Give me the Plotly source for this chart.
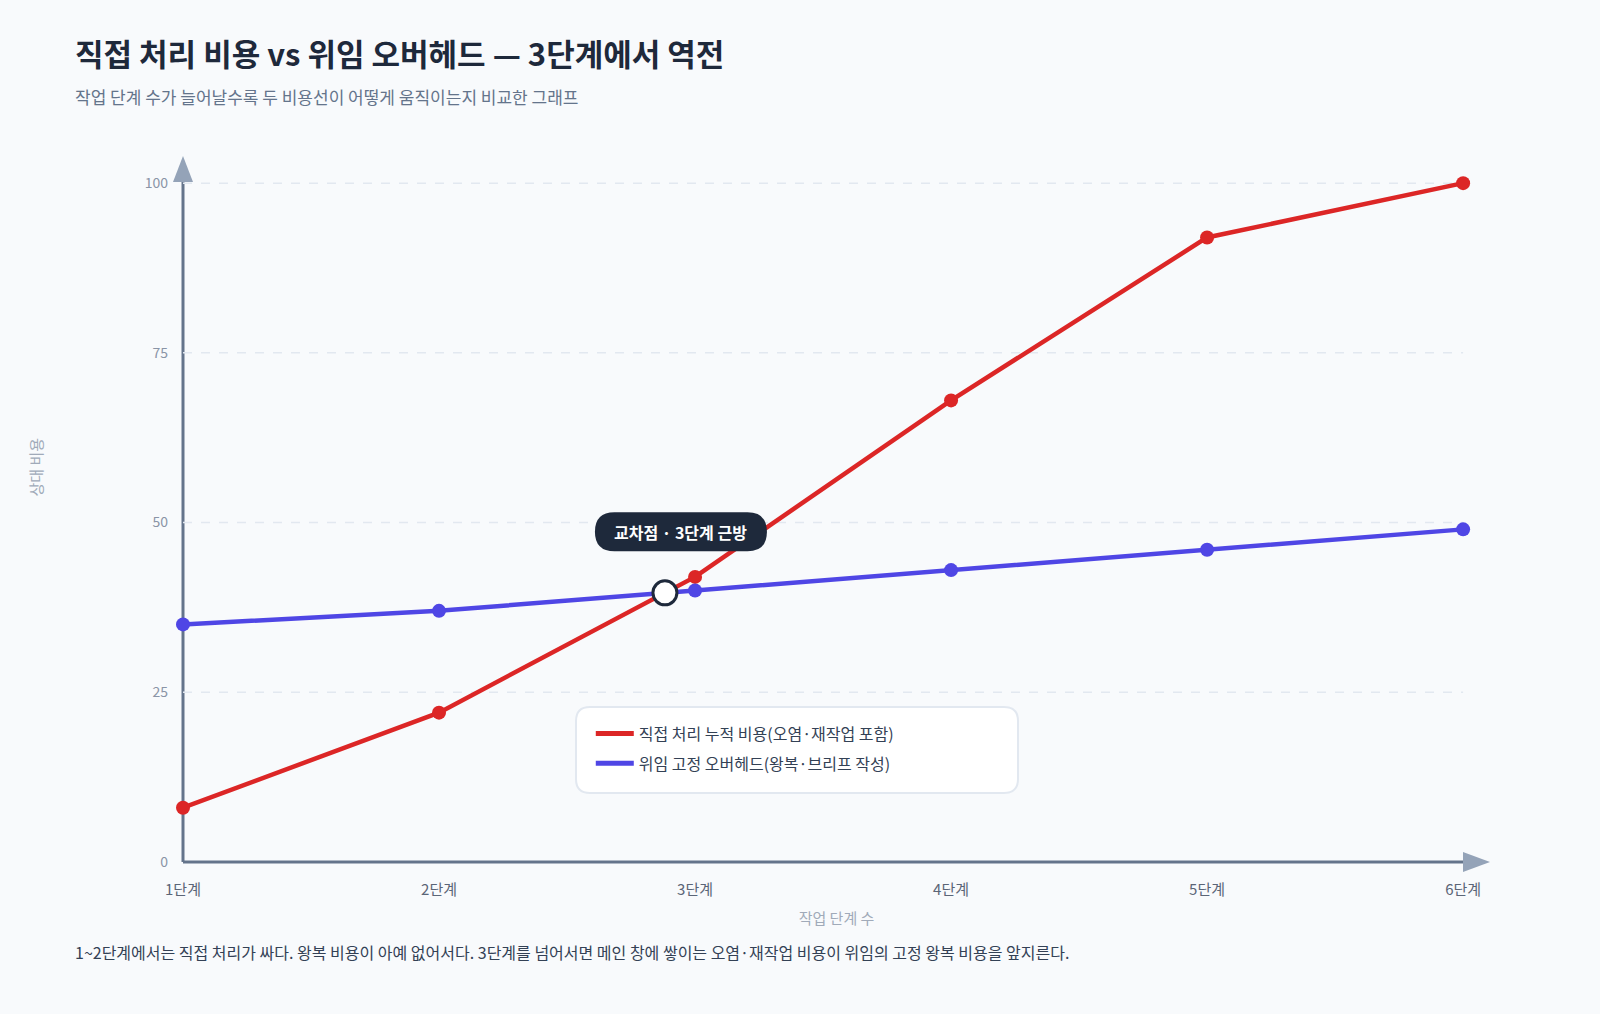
import plotly.graph_objects as go

# data
stages = ["1단계", "2단계", "3단계", "4단계", "5단계", "6단계"]
direct_cost = [8, 22, 42, 68, 92, 100]
delegate_overhead = [35, 37, 40, 43, 46, 49]
y_ticks = [0, 25, 50, 75, 100]

direct_name = "직접 처리 누적 비용(오염·재작업 포함)"
delegate_name = "위임 고정 오버헤드(왕복·브리프 작성)"

RED = "#dc2626"
BLUE = "#4f46e5"
INK = "#1e293b"
AXIS = "#64748b"
BG = "#f8fafc"
FONT = "Noto Sans CJK KR"

x = list(range(1, len(stages) + 1))

# where the two lines cross (between stage 2 and 3)
i = 1
d0 = direct_cost[i] - delegate_overhead[i]
d1 = direct_cost[i + 1] - delegate_overhead[i + 1]
t = d0 / (d0 - d1)
cross_x = x[i] + t
cross_y = delegate_overhead[i] + t * (delegate_overhead[i + 1] - delegate_overhead[i])

X_MAX = 6.105
Y_MAX = 104
PW, PH = 1307, 706  # plot area size in px


def rounded(x0, y0, x1, y1, r):
    return (f"M {x0 + r},{y0} L {x1 - r},{y0} Q {x1},{y0} {x1},{y0 + r} "
            f"L {x1},{y1 - r} Q {x1},{y1} {x1 - r},{y1} L {x0 + r},{y1} "
            f"Q {x0},{y1} {x0},{y1 - r} L {x0},{y0 + r} Q {x0},{y0} {x0 + r},{y0} Z")


fig = go.Figure()

fig.add_trace(go.Scatter(
    x=x, y=direct_cost, mode="lines+markers", showlegend=False,
    line=dict(color=RED, width=4.5), marker=dict(size=14, color=RED),
    cliponaxis=False, hoverinfo="skip",
))
fig.add_trace(go.Scatter(
    x=x, y=delegate_overhead, mode="lines+markers", showlegend=False,
    line=dict(color=BLUE, width=4.5), marker=dict(size=14, color=BLUE),
    cliponaxis=False, hoverinfo="skip",
))
# legend entries (line only)
fig.add_trace(go.Scatter(x=[None], y=[None], mode="lines", name=direct_name,
                         line=dict(color=RED, width=5), legendgroup="a"))
fig.add_trace(go.Scatter(x=[None], y=[None], mode="lines", name=delegate_name,
                         line=dict(color=BLUE, width=5), legendgroup="b"))
# crossing marker
fig.add_trace(go.Scatter(
    x=[cross_x], y=[cross_y], mode="markers", showlegend=False,
    marker=dict(size=24, color="white", line=dict(color=INK, width=3)),
    cliponaxis=False, hoverinfo="skip",
))

shapes = []
# dashed grid
for v in y_ticks[1:]:
    shapes.append(dict(type="line", xref="x", yref="y", x0=1, x1=x[-1], y0=v, y1=v,
                       line=dict(color="#e2e8f0", width=1.5, dash="dash"), layer="below"))
# axes with arrow heads (paper refs so nothing is clipped)
shapes.append(dict(type="line", xref="paper", yref="paper", x0=0, x1=1 - 20 / PW, y0=0, y1=0,
                   line=dict(color=AXIS, width=3), layer="below"))
shapes.append(dict(type="line", xref="paper", yref="paper", x0=0, x1=0, y0=0, y1=1 - 20 / PH,
                   line=dict(color=AXIS, width=3), layer="below"))
shapes.append(dict(type="path", xref="paper", yref="paper", xsizemode="pixel", ysizemode="pixel",
                   xanchor=1, yanchor=0, path="M 0,0 L -27,10 L -27,-10 Z",
                   fillcolor="#94a3b8", line=dict(width=0), layer="below"))
shapes.append(dict(type="path", xref="paper", yref="paper", xsizemode="pixel", ysizemode="pixel",
                   xanchor=0, yanchor=1, path="M 0,0 L -10,-26 L 10,-26 Z",
                   fillcolor="#94a3b8", line=dict(width=0), layer="below"))
# callout pill
shapes.append(dict(type="path", xref="x", yref="y", xsizemode="pixel", ysizemode="pixel",
                   xanchor=cross_x, yanchor=cross_y,
                   path=rounded(-70, 41.5, 102, 80.5, 19.5),
                   fillcolor=INK, line=dict(width=0)))
# legend box
shapes.append(dict(type="path", xref="paper", yref="paper", xsizemode="pixel", ysizemode="pixel",
                   xanchor=(576 - 183) / PW, yanchor=(862 - 707) / PH,
                   path=rounded(0, -86, 442, 0, 14),
                   fillcolor="white", line=dict(color="#e2e8f0", width=2), layer="below"))

annotations = [
    dict(x=cross_x, y=cross_y, xref="x", yref="y", xshift=16, yshift=61, showarrow=False,
         text="<b>교차점 · 3단계 근방</b>", font=dict(family=FONT, size=16, color="white")),
    dict(x=-160 / PW, y=(862 - 467) / PH, xref="paper", yref="paper", textangle=-90,
         showarrow=False, text="상대 비용", font=dict(family=FONT, size=15, color="#a0aab9")),
    dict(x=-110 / PW, y=-90 / PH, xref="paper", yref="paper", xanchor="left", yanchor="middle",
         showarrow=False, align="left",
         text="1~2단계에서는 직접 처리가 싸다. 왕복 비용이 아예 없어서다. "
              "3단계를 넘어서면 메인 창에 쌓이는 오염·재작업 비용이 위임의 고정 왕복 비용을 앞지른다.",
         font=dict(family=FONT, size=16, color="#334155")),
    dict(x=-110 / PW, y=(862 - 52) / PH, xref="paper", yref="paper", xanchor="left", yanchor="middle",
         showarrow=False, text="<b>직접 처리 비용 vs 위임 오버헤드 — 3단계에서 역전</b>",
         font=dict(family=FONT, size=31, color=INK)),
    dict(x=-110 / PW, y=(862 - 96) / PH, xref="paper", yref="paper", xanchor="left", yanchor="middle",
         showarrow=False, text="작업 단계 수가 늘어날수록 두 비용선이 어떻게 움직이는지 비교한 그래프",
         font=dict(family=FONT, size=17, color="#64748b")),
]

fig.update_layout(
    width=1600, height=1014,
    margin=dict(l=183, r=110, t=156, b=152),
    paper_bgcolor=BG, plot_bgcolor=BG,
    font=dict(family=FONT, color="#64748b"),
    shapes=shapes, annotations=annotations,
    showlegend=True,
    legend=dict(x=0.312, y=0.206, xanchor="left", yanchor="top", bgcolor="rgba(0,0,0,0)",
                font=dict(family=FONT, size=16, color="#334155"), tracegroupgap=6,
                traceorder="grouped", itemwidth=38),
    xaxis=dict(range=[1, X_MAX], tickvals=x, ticktext=stages, showgrid=False, zeroline=False,
               showline=False, ticks="", tickfont=dict(size=15, color="#5b6577"),
               ticklabelstandoff=17,
               title=dict(text="작업 단계 수", font=dict(size=15, color="#a0aab9"), standoff=15)),
    yaxis=dict(range=[0, Y_MAX], tickvals=y_ticks, showgrid=False, zeroline=False,
               showline=False, ticks="", tickfont=dict(size=14, color="#8a94a6"),
               ticklabelstandoff=14),
)

fig.write_html("out.html", config={"displayModeBar": False},
               post_script="document.body.style.margin='0';")
